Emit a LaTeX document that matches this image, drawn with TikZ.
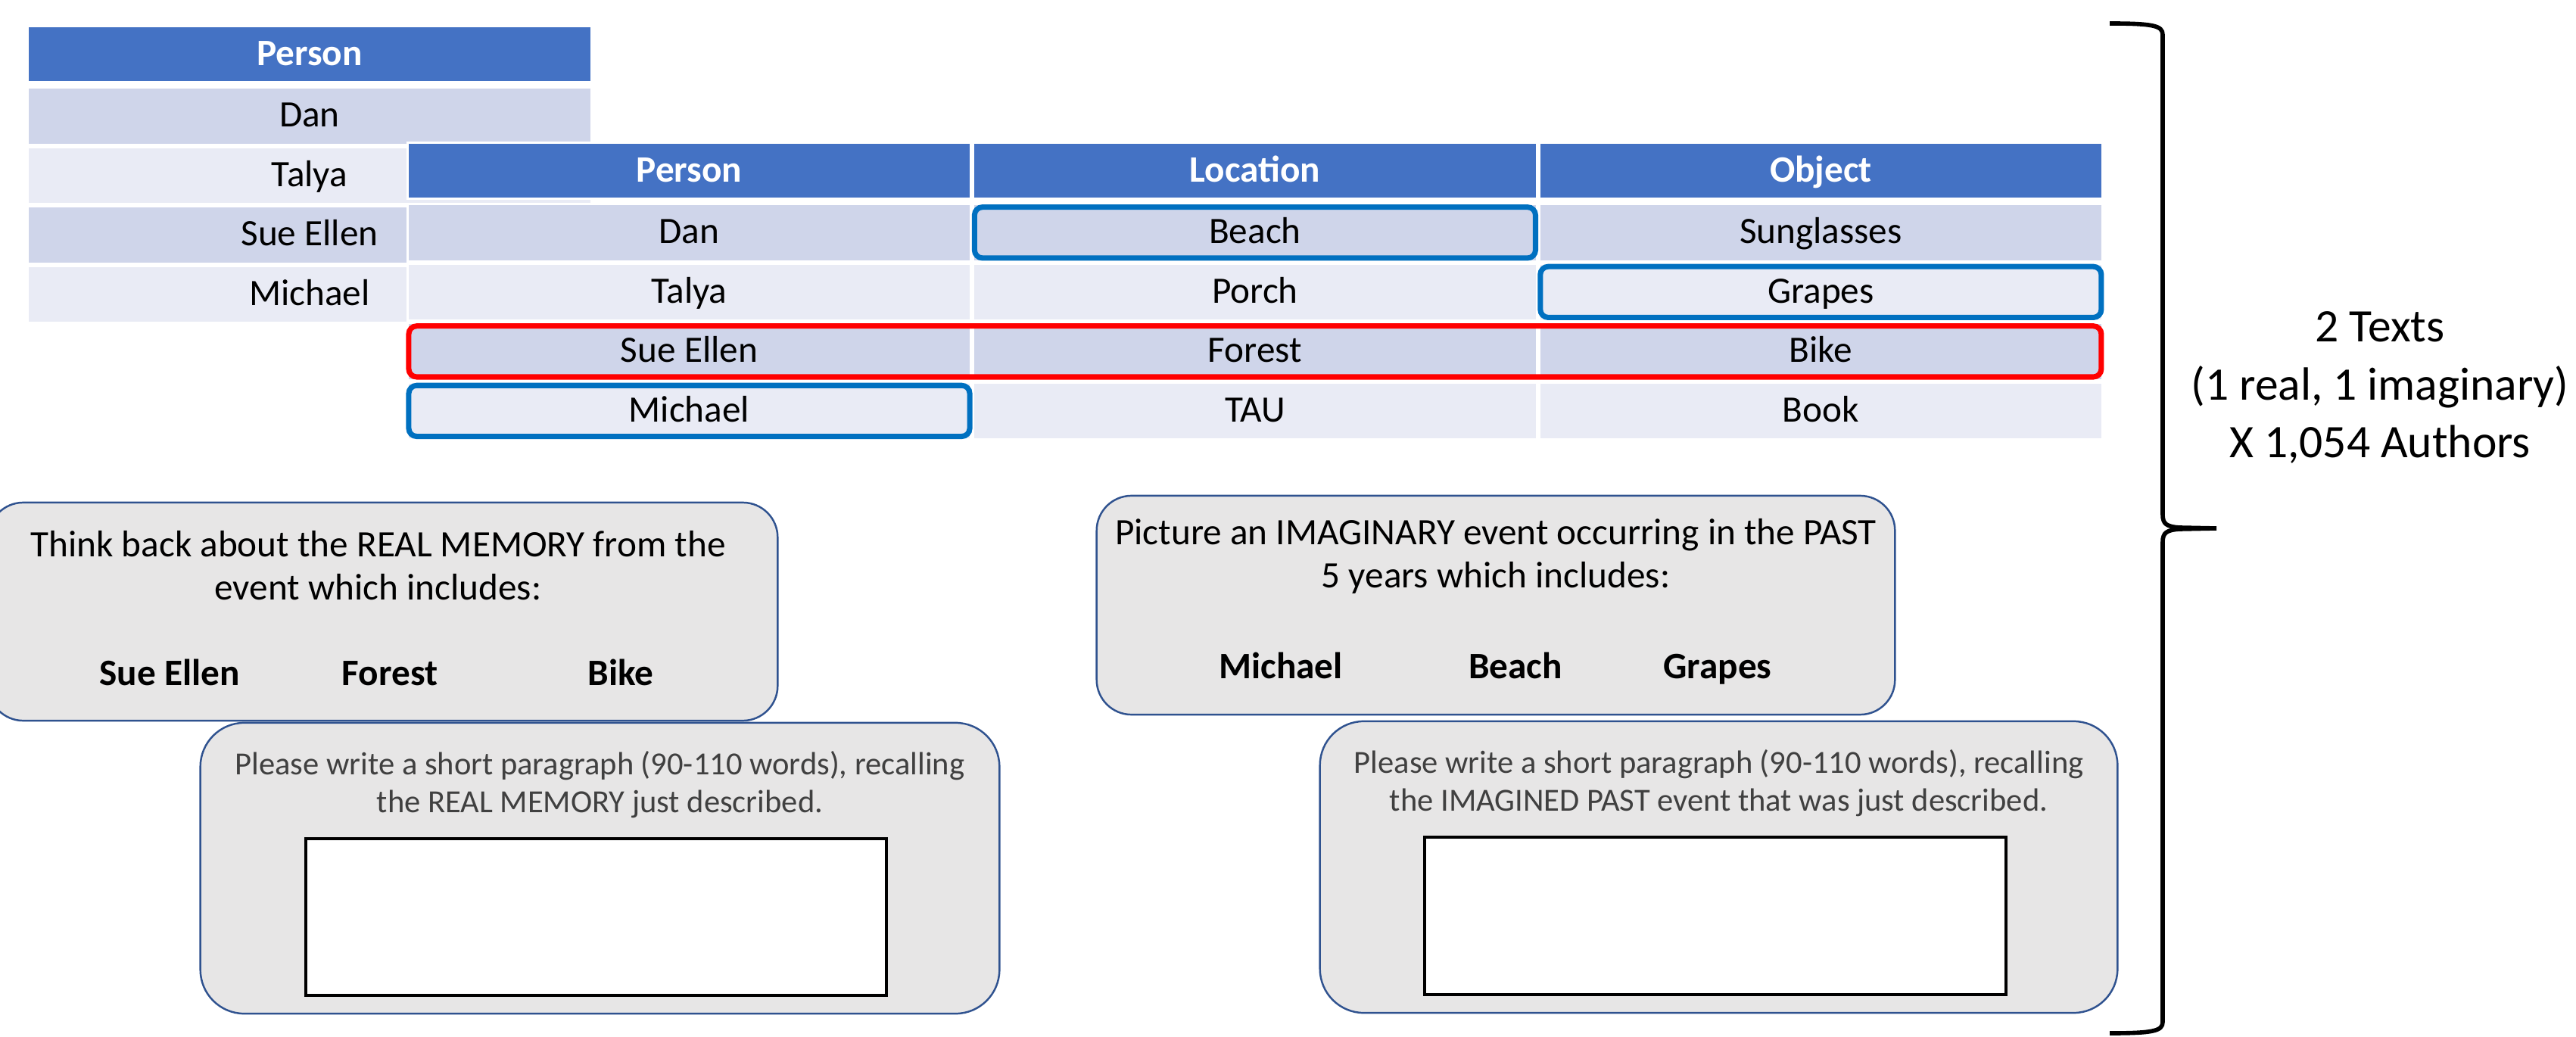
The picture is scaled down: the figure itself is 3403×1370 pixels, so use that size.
\documentclass[tikz,border=0pt]{standalone}
\usepackage{fontspec}
\setmainfont{Carlito}
\usepackage{xcolor}
\usepackage{tikz}
\usetikzlibrary{shapes,arrows,positioning,fit,calc}

\definecolor{hdrblue}{HTML}{4472C4}
\definecolor{rowdark}{HTML}{CFD5EA}
\definecolor{rowlight}{HTML}{E9EBF5}
\definecolor{pickblue}{HTML}{0070C0}
\definecolor{pickred}{HTML}{FF0000}
\definecolor{cardgray}{HTML}{E7E6E6}
\definecolor{cardedge}{HTML}{2F528F}
\definecolor{hinttext}{HTML}{404040}

\tikzset{
    cell/.style={rectangle, draw=white, line width=0.85pt, minimum width=7.44cm, minimum height=0.755cm, inner sep=0pt, text height=11pt, text depth=2.7pt, font=\fontsize{14}{16}\selectfont},
    hdr/.style={cell, fill=hdrblue, text=white, minimum height=0.74cm, font=\fontsize{14}{16}\selectfont\bfseries},
    rowA/.style={cell, fill=rowdark},
    rowB/.style={cell, fill=rowlight},
    pickbox/.style={rectangle, rounded corners=3pt, draw=pickblue, line width=2pt, inner xsep=-0.9pt, inner ysep=-1.6pt},
    realbox/.style={pickbox, draw=pickred},
    card/.style={rectangle, fill=cardgray, draw=cardedge, line width=0.7pt},
    answer/.style={rectangle, fill=white, draw=black, line width=1.2pt},
    cue/.style={align=center, font=\fontsize{14}{16}\selectfont},
    word/.style={text height=11pt, text depth=2.7pt, font=\fontsize{14}{16}\selectfont\bfseries},
    hint/.style={align=center, text=hinttext, font=\fontsize{12.1}{14}\selectfont}
}

\begin{document}
\begin{tikzpicture}[x=0.01cm, y=-0.01cm, node distance=0pt]
    \useasboundingbox (0,0) rectangle (3403,1370);

    % people list
    \node (lper) [hdr] at (409,71.5) {Person};
    \node (ldan) [rowA, below=0.04cm of lper] {Dan};
    \node (ltal) [rowB, below=of ldan] {Talya};
    \node (lsue) [rowA, below=of ltal] {Sue Ellen};
    \node (lmic) [rowB, below=of lsue] {Michael};

    % person / location / object table
    \node (rper) [hdr] at (910.5,225.5) {Person};
    \node (rloc) [hdr, right=of rper] {Location};
    \node (robj) [hdr, right=of rloc] {Object};
    \node (rdan) [rowA, below=0.04cm of rper] {Dan};
    \node (rbeach) [rowA, right=of rdan] {Beach};
    \node (rsun) [rowA, right=of rbeach] {Sunglasses};
    \node (rtal) [rowB, below=of rdan] {Talya};
    \node (rporch) [rowB, right=of rtal] {Porch};
    \node (rgrape) [rowB, right=of rporch] {Grapes};
    \node (rsue) [rowA, below=of rtal] {Sue Ellen};
    \node (rforest) [rowA, right=of rsue] {Forest};
    \node (rbike) [rowA, right=of rforest] {Bike};
    \node (rmic) [rowB, below=of rsue] {Michael};
    \node (rtau) [rowB, right=of rmic] {TAU};
    \node (rbook) [rowB, right=of rtau] {Book};

    \node (pickbeach) [pickbox, fit=(rbeach)] {};
    \node (pickgrape) [pickbox, fit=(rgrape)] {};
    \node (pickmic) [pickbox, fit=(rmic)] {};
    \node (pickreal) [realbox, fit=(rsue)(rbike)] {};

    % real memory
    \node (realcue) [card, rounded corners=0.46cm, minimum width=10.42cm, minimum height=2.88cm] at (506,808) {};
    \node (realtxt) [cue] at (499.5,747) {Think back about the REAL MEMORY from the\\event which includes:};
    \node (realp) [word] at (224,891) {Sue Ellen};
    \node (reall) [word] at (515,891) {Forest};
    \node (realo) [word] at (820,891) {Bike};

    \node (realwrite) [card, rounded corners=0.58cm, minimum width=10.55cm, minimum height=3.84cm] at (792.5,1147) {};
    \node (realhint) [hint] at (792.5,1036.5) {Please write a short paragraph (90-110 words), recalling\\the REAL MEMORY just described.};
    \node (realans) [answer, minimum width=7.67cm, minimum height=2.07cm] at (787.5,1211.5) {};

    % imagined event
    \node (imagcue) [card, rounded corners=0.46cm, minimum width=10.54cm, minimum height=2.89cm] at (1976,799.5) {};
    \node (imagtxt) [cue] at (1976,735) {Picture an IMAGINARY event occurring in the PAST\\5 years which includes:};
    \node (imagp) [word] at (1692,882) {Michael};
    \node (imagl) [word] at (2002,882) {Beach};
    \node (imago) [word] at (2269,882) {Grapes};

    \node (imagwrite) [card, rounded corners=0.58cm, minimum width=10.53cm, minimum height=3.85cm] at (2270.5,1145.5) {};
    \node (imaghint) [hint] at (2270.5,1034.5) {Please write a short paragraph (90-110 words), recalling\\the IMAGINED PAST event that was just described.};
    \node (imagans) [answer, minimum width=7.68cm, minimum height=2.08cm] at (2266,1210) {};

    % brace and count
    \coordinate (tip) at (2928,698);
    \draw [line width=1.6pt] (2787,31) .. controls (2845,31) and (2857,34) .. (2857,46) -- (2857,680) .. controls (2857,692) and (2862,696) .. (2880,697) -- (tip) -- (2880,699) .. controls (2862,700) and (2857,704) .. (2857,716) -- (2857,1350) .. controls (2857,1362) and (2845,1365) .. (2787,1365);
    \node (count) [align=center, font=\fontsize{17.5}{21.8}\selectfont] at (3144,512) {2 Texts\\(1 real, 1 imaginary)\\X 1,054 Authors};
\end{tikzpicture}
\end{document}
